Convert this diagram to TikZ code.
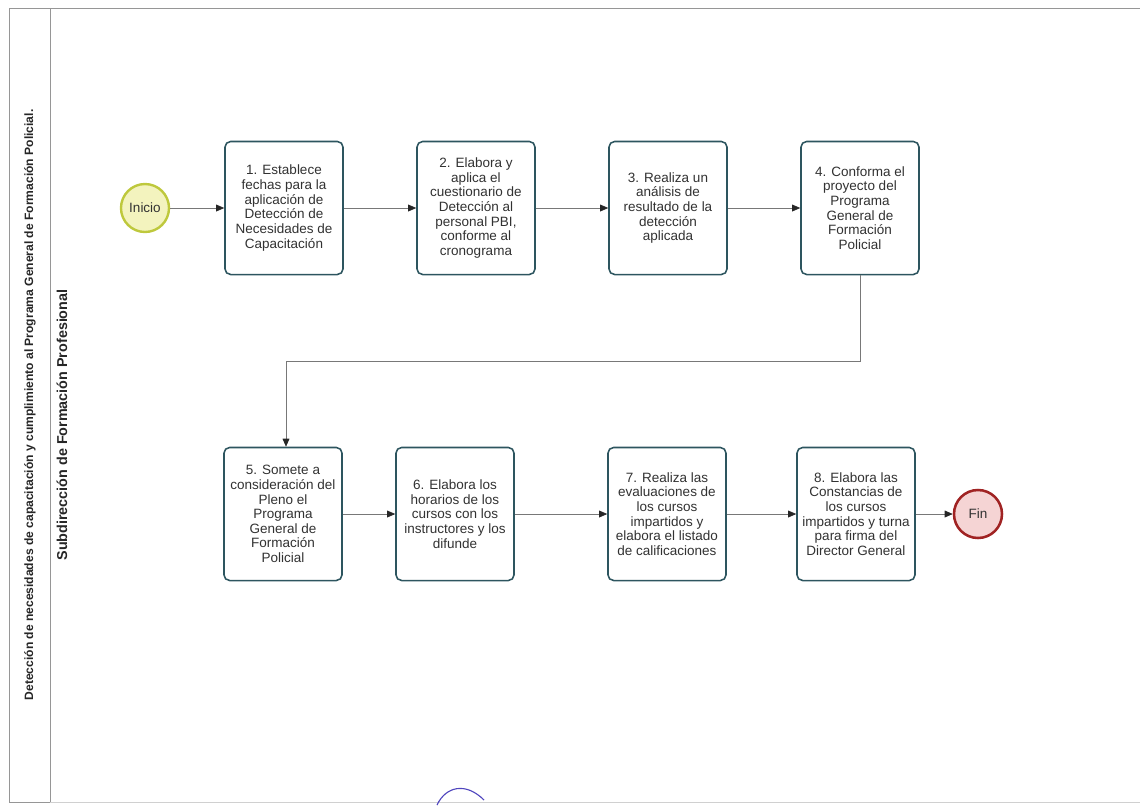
\documentclass[tikz,border=0pt]{standalone}
\usepackage{fontspec}
\setmainfont{Liberation Sans}
\usepackage{xcolor}
\definecolor{bpteal}{RGB}{45,85,95}
\definecolor{bpgray}{RGB}{120,120,120}
\definecolor{bptext}{RGB}{50,50,50}
\definecolor{bpyellow}{RGB}{190,200,60}
\definecolor{bpyellowfill}{RGB}{243,243,190}
\definecolor{bpred}{RGB}{160,35,35}
\definecolor{bpredfill}{RGB}{245,212,212}
\definecolor{bplane}{RGB}{150,150,150}
\definecolor{bpink}{RGB}{80,70,190}
\usetikzlibrary{arrows.meta, positioning}

\tikzset{
  actbox/.style={draw=bpteal, line width=1.1pt, rounded corners=4pt, fill=white,
    minimum width=2.95cm, minimum height=3.325cm, inner sep=2pt, align=center,
    text=bptext, font=\fontsize{9.6}{10.4}\selectfont},
  startev/.style={circle, draw=bpyellow, line width=1.7pt, fill=bpyellowfill,
    minimum size=1.2cm, inner sep=0pt, text=bptext, font=\fontsize{9.6}{10.4}\selectfont},
  endev/.style={circle, draw=bpred, line width=1.8pt, fill=bpredfill,
    minimum size=1.2cm, inner sep=0pt, text=bptext, font=\fontsize{9.6}{10.4}\selectfont},
  flow/.style={draw=bpgray, line width=0.5pt, -{Triangle[length=2mm, width=1.7mm, color=black!85]}},
  lanetext/.style={rotate=90, text=black!85, font=\bfseries}
}

\begin{document}
\begin{tikzpicture}[x=0.025cm, y=-0.025cm]
  \useasboundingbox (0,0) rectangle (1140,805);

  % Pool and lane borders
  \draw[bplane, line width=0.5pt] (9,8) -- (1140,8);
  \draw[bplane, line width=0.5pt] (9,8) -- (9,802);
  \draw[bplane, line width=0.5pt] (50,8) -- (50,802);
  \draw[bplane, line width=0.5pt] (9,802) -- (50,802);
  \draw[bplane!45, line width=0.4pt] (50,802) -- (1140,802);

  % Lane labels
  \node[lanetext, font=\bfseries\fontsize{8.6}{9}\selectfont] (pool) at (30,405) {Detección de necesidades de capacitación y cumplimiento al Programa General de Formación Policial.};
  \node[lanetext, font=\bfseries\fontsize{10.2}{11}\selectfont] (lane) at (62,425) {Subdirección de Formación Profesional};

  % --- First row ---
  \node[startev] (inicio) at (145,208) {Inicio};
  \node[actbox] (act1) at (284,208) {1. Establece\\fechas para la\\aplicación de\\Detección de\\Necesidades de\\Capacitación};
  \node[actbox] (act2) at (476,208) {2. Elabora y\\aplica el\\cuestionario de\\Detección al\\personal PBI,\\conforme al\\cronograma};
  \node[actbox] (act3) at (668,208) {3. Realiza un\\análisis de\\resultado de la\\detección\\aplicada};
  \node[actbox] (act4) at (860,208) {4. Conforma el\\proyecto del\\Programa\\General de\\Formación\\Policial};

  % --- Second row ---
  \node[actbox] (act5) at (283,514) {5. Somete a\\consideración del\\Pleno el\\Programa\\General de\\Formación\\Policial};
  \node[actbox] (act6) at (455,514) {6. Elabora los\\horarios de los\\cursos con los\\instructores y los\\difunde};
  \node[actbox] (act7) at (667,514) {7. Realiza las\\evaluaciones de\\los cursos\\impartidos y\\elabora el listado\\de calificaciones};
  \node[actbox] (act8) at (856,514) {8. Elabora las\\Constancias de\\los cursos\\impartidos y turna\\para firma del\\Director General};
  \node[endev] (fin) at (978,514) {Fin};

  % Connectors
  \draw[flow] (inicio) -- (act1);
  \draw[flow] (act1) -- (act2);
  \draw[flow] (act2) -- (act3);
  \draw[flow] (act3) -- (act4);
  \coordinate (turn) at (286,361);
  \draw[flow] (act4.south) |- (turn) -- (act5.north -| turn);
  \draw[flow] (act5) -- (act6);
  \draw[flow] (act6) -- (act7);
  \draw[flow] (act7) -- (act8);
  \draw[flow] (act8) -- (fin);

  % Ink stroke at the bottom edge
  \draw[bpink, line width=0.8pt] (437,805) .. controls (446,786) and (466,782) .. (484,800);
\end{tikzpicture}
\end{document}
